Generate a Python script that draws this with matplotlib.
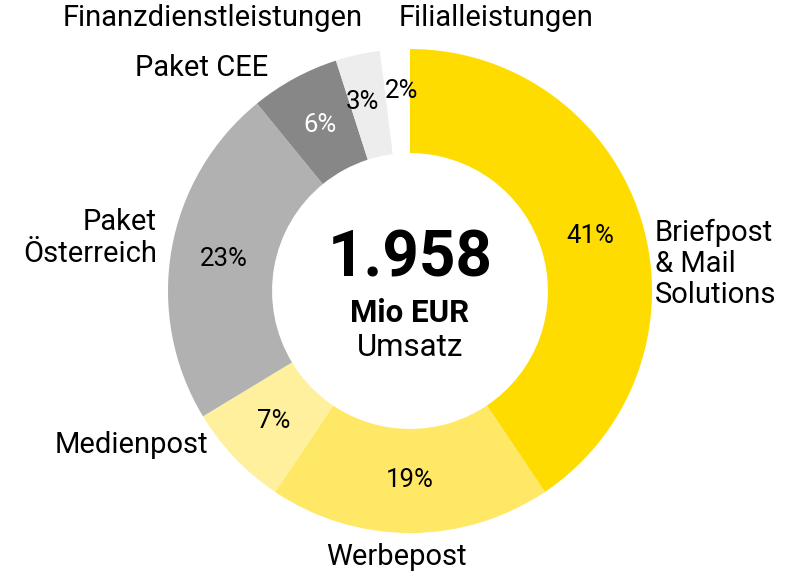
import numpy as np
import matplotlib.pyplot as plt

segments = ['Briefpost\n& Mail\nSolutions', 'Werbepost', 'Medienpost', 'Paket\nÖsterreich',
            'Paket CEE', 'Finanzdienstleistungen', 'Filialleistungen']
shares = [41, 19, 7, 23, 6, 3, 2]
colors = ['#FFDC00', '#FFE866', '#FFF09E', '#B1B1B1', '#878787', '#EDEDED', '#FFFFFF']
pct_colors = ['black', 'black', 'black', 'black', 'white', 'black', 'black']
total = '1.958'

plt.rcParams['font.family'] = ['Roboto', 'DejaVu Sans']

fig = plt.figure(figsize=(7.94, 5.72), dpi=100)
ax = fig.add_axes([0, 0, 1, 1])

cx, cy, r = 410, 291, 242
wedges, texts = ax.pie(
    shares, colors=colors, startangle=-90, counterclock=True,
    center=(cx, cy), radius=r,
    wedgeprops=dict(width=r * 0.43, linewidth=0))
ax.set_xlim(0, 794)
ax.set_ylim(572, 0)
ax.set_aspect('equal')
ax.axis('off')

# nudges for the two thin slices so their labels don't collide
nudge = {5: (-7, -5), 6: (3, -12)}
for i, (w, s, c) in enumerate(zip(wedges, shares, pct_colors)):
    ang = np.deg2rad((w.theta1 + w.theta2) / 2)
    rr = r * 0.78
    x, y = cx + rr * np.cos(ang), cy + rr * np.sin(ang)
    dx, dy = nudge.get(i, (0, 0))
    ax.text(x + dx, y + dy, f'{s}%', ha='center', va='center', fontsize=18.5, color=c)

fs = 21
ax.text(213, 18, segments[5], ha='center', va='center', fontsize=fs)
ax.text(496, 18, segments[6], ha='center', va='center', fontsize=fs)
ax.text(268, 68, segments[4], ha='right', va='center', fontsize=fs)
ax.text(157, 238, segments[3], ha='right', va='center', fontsize=fs, linespacing=1.15)
ax.text(655, 264, segments[0], ha='left', va='center', fontsize=fs, linespacing=1.15)
ax.text(208, 445, segments[2], ha='right', va='center', fontsize=fs)
ax.text(396, 557, segments[1], ha='center', va='center', fontsize=fs)

ax.text(cx, 259, total, ha='center', va='center', fontsize=46, fontweight='bold')
ax.text(cx, 313, 'Mio EUR', ha='center', va='center', fontsize=22.5, fontweight='bold')
ax.text(cx, 347, 'Umsatz', ha='center', va='center', fontsize=22.5)

fig.savefig('out.png', dpi=100)
